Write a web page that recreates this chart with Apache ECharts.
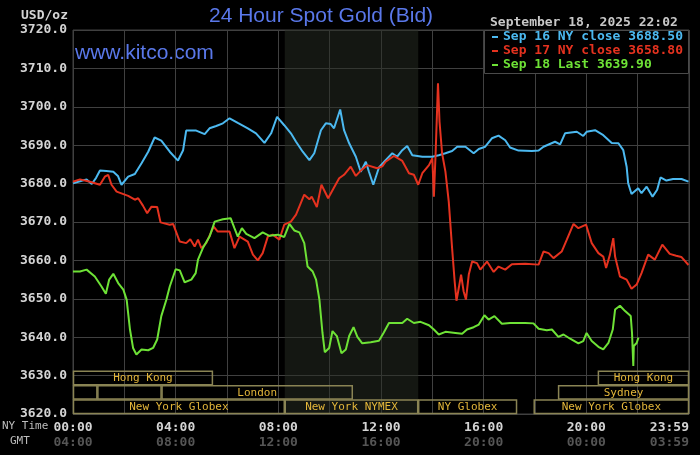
<!doctype html>
<html lang="en">
<head>
	<title>24 Hour Spot Gold</title>
	<meta charset="utf-8" />
	<script src="https://cdn.jsdelivr.net/npm/echarts@6/dist/echarts.min.js"></script>
	<style>
		html, body { margin: 0; padding: 0; background: #000; }
	</style>
</head>

<body>
	<div id="main" style="width: 700px; height: 455px;"></div>
	<script>
		// [hour of NY day, price]
		var sep16 = [[0,3680.1],[0.27,3680.6],[0.53,3681.1],[0.73,3679.9],[0.9,3681.5],[1.05,3683.4],[1.3,3683.3],[1.57,3683.1],[1.75,3682.0],[1.89,3679.7],[2.15,3681.8],[2.41,3682.5],[2.67,3685.3],[2.93,3688.3],[3.18,3692.0],[3.44,3691.2],[3.77,3688.3],[4.09,3686.0],[4.29,3688.7],[4.41,3693.8],[4.8,3693.8],[5.13,3692.9],[5.32,3694.4],[5.58,3695.0],[5.84,3695.7],[6.1,3697.0],[6.42,3695.8],[6.81,3694.4],[7.13,3693.1],[7.46,3690.6],[7.72,3693.1],[7.95,3697.4],[8.23,3695.2],[8.49,3693.1],[8.69,3690.9],[8.95,3688.3],[9.21,3686.1],[9.4,3687.9],[9.66,3693.9],[9.85,3695.7],[10.04,3695.5],[10.17,3694.4],[10.41,3699.3],[10.56,3693.9],[10.76,3690.5],[11.02,3687.0],[11.21,3683.1],[11.41,3685.7],[11.53,3683.1],[11.7,3679.7],[11.92,3684.2],[12.18,3686.1],[12.44,3687.9],[12.63,3687.0],[12.83,3688.7],[13.02,3689.8],[13.22,3687.4],[13.61,3687.0],[14.0,3687.0],[14.25,3687.4],[14.51,3687.9],[14.77,3688.5],[14.97,3689.6],[15.29,3689.6],[15.61,3687.9],[15.81,3689.0],[16.06,3689.6],[16.32,3691.8],[16.58,3692.5],[16.84,3691.3],[17.03,3689.4],[17.36,3688.6],[17.88,3688.5],[18.14,3688.6],[18.33,3689.6],[18.78,3690.9],[18.98,3690.2],[19.17,3693.1],[19.63,3693.5],[19.88,3692.4],[20.01,3693.5],[20.34,3693.9],[20.66,3692.6],[20.99,3690.6],[21.25,3690.5],[21.44,3688.7],[21.57,3684.4],[21.63,3680.1],[21.76,3677.3],[22.02,3678.8],[22.15,3677.5],[22.35,3679.2],[22.58,3676.6],[22.76,3678.4],[22.89,3681.6],[23.12,3680.8],[23.38,3681.2],[23.71,3681.2],[23.98,3680.5]];
		var sep17 = [[0,3680.5],[0.27,3681.1],[0.66,3680.5],[1.05,3679.7],[1.24,3681.8],[1.37,3682.3],[1.5,3679.7],[1.7,3677.9],[2.15,3676.8],[2.41,3675.8],[2.54,3676.2],[2.73,3674.2],[2.89,3672.3],[3.06,3674.0],[3.28,3673.9],[3.41,3669.9],[3.77,3669.3],[3.9,3669.5],[4.16,3664.9],[4.41,3664.5],[4.57,3665.5],[4.74,3663.6],[4.87,3665.4],[5.0,3663.2],[5.19,3664.5],[5.48,3668.8],[5.64,3667.5],[6.1,3667.5],[6.29,3663.2],[6.49,3666.2],[6.81,3664.9],[7.01,3661.5],[7.2,3660.0],[7.39,3661.9],[7.59,3666.2],[7.78,3666.7],[8.04,3665.4],[8.23,3669.3],[8.49,3670.1],[8.69,3671.9],[9.01,3677.1],[9.21,3675.9],[9.3,3676.6],[9.5,3673.9],[9.68,3679.7],[9.94,3676.2],[10.17,3679.0],[10.37,3681.4],[10.56,3682.3],[10.82,3684.4],[11.02,3682.0],[11.23,3683.5],[11.46,3684.8],[11.85,3684.0],[12.05,3684.5],[12.18,3685.7],[12.5,3687.2],[12.83,3685.9],[13.09,3682.7],[13.28,3682.3],[13.45,3679.7],[13.61,3682.7],[13.87,3684.8],[14.0,3686.6],[14.06,3676.6],[14.13,3688.3],[14.22,3706.1],[14.28,3696.1],[14.38,3687.9],[14.51,3683.1],[14.64,3675.3],[14.77,3663.2],[14.87,3654.5],[14.94,3649.5],[15.03,3652.8],[15.12,3656.3],[15.22,3651.9],[15.31,3649.8],[15.42,3656.3],[15.55,3659.7],[15.74,3659.3],[15.87,3657.6],[16.13,3659.7],[16.39,3657.0],[16.58,3658.4],[16.84,3657.6],[17.1,3659.0],[17.62,3659.1],[18.14,3658.9],[18.33,3662.3],[18.53,3661.9],[18.72,3660.6],[19.04,3662.3],[19.24,3665.4],[19.5,3669.5],[19.69,3668.4],[19.99,3669.3],[20.21,3664.5],[20.47,3661.9],[20.66,3661.0],[20.77,3658.0],[20.92,3661.5],[21.05,3665.8],[21.12,3661.0],[21.31,3655.8],[21.57,3655.0],[21.76,3652.6],[21.96,3653.7],[22.15,3656.7],[22.41,3661.5],[22.67,3660.2],[22.96,3664.1],[23.25,3661.7],[23.5,3661.2],[23.7,3660.9],[23.98,3658.8]];
		var sep18 = [[0,3657.1],[0.27,3657.1],[0.53,3657.6],[0.85,3655.8],[1.11,3653.2],[1.28,3651.3],[1.41,3655.0],[1.57,3656.5],[1.76,3654.1],[1.96,3652.4],[2.09,3649.8],[2.22,3642.0],[2.34,3637.2],[2.47,3635.5],[2.67,3636.8],[2.93,3636.6],[3.12,3637.2],[3.28,3639.4],[3.44,3645.5],[3.64,3649.8],[3.77,3653.2],[4.0,3657.7],[4.16,3657.4],[4.35,3654.3],[4.61,3655.0],[4.78,3656.7],[4.87,3660.2],[5.06,3663.2],[5.32,3666.2],[5.52,3670.1],[5.84,3670.7],[6.14,3671.0],[6.29,3668.4],[6.42,3666.2],[6.58,3668.4],[6.75,3666.9],[7.07,3665.8],[7.39,3667.3],[7.65,3666.4],[7.98,3666.7],[8.23,3666.1],[8.43,3669.5],[8.62,3667.8],[8.82,3667.3],[9.01,3664.5],[9.14,3658.4],[9.34,3657.1],[9.47,3655.0],[9.6,3649.8],[9.72,3641.1],[9.81,3636.1],[9.98,3637.2],[10.11,3641.6],[10.28,3640.3],[10.46,3635.8],[10.63,3636.8],[10.76,3640.3],[10.93,3642.6],[11.08,3640.1],[11.27,3638.4],[11.6,3638.7],[11.92,3639.1],[12.11,3641.2],[12.31,3643.7],[12.63,3643.7],[12.83,3643.7],[13.02,3644.8],[13.28,3643.7],[13.54,3644.0],[13.87,3643.1],[14.06,3642.0],[14.25,3640.7],[14.51,3641.4],[14.9,3641.1],[15.16,3640.9],[15.35,3642.0],[15.61,3642.6],[15.81,3643.3],[16.03,3645.7],[16.19,3644.6],[16.42,3645.5],[16.71,3643.5],[17.03,3643.7],[17.62,3643.7],[17.94,3643.6],[18.14,3642.2],[18.46,3641.8],[18.66,3642.0],[18.91,3640.1],[19.11,3640.7],[19.37,3639.6],[19.69,3638.4],[19.88,3639.0],[20.01,3641.1],[20.21,3639.0],[20.47,3637.5],[20.66,3636.8],[20.86,3638.5],[21.03,3642.0],[21.12,3647.2],[21.31,3648.2],[21.51,3646.8],[21.73,3645.5],[21.78,3641.1],[21.83,3632.5],[21.85,3637.7],[21.96,3638.5],[22.03,3639.9]];

		var legendNames = ['Sep 16 NY close 3688.50', 'Sep 17 NY close 3658.80', 'Sep 18 Last 3639.90'];
		var dateText = 'September 18, 2025 22:02';

		// x tick labels: hour -> [NY time, GMT]
		var nyTicks = {0: '00:00', 4: '04:00', 8: '08:00', 12: '12:00', 16: '16:00', 20: '20:00', 24: '23:59'};
		var gmtTicks = {0: '04:00', 4: '08:00', 8: '12:00', 12: '16:00', 16: '20:00', 20: '00:00', 24: '03:59'};

		// market sessions: [start hour, end hour, row, name]
		var sessions = [
			[0, 5.45, 0, 'Hong Kong'],
			[20.45, 24, 0, 'Hong Kong'],
			[0, 0.95, 1, ''],
			[0.95, 3.45, 1, ''],
			[3.45, 10.9, 1, 'London'],
			[18.9, 24, 1, 'Sydney'],
			[0, 8.25, 2, 'New York Globex'],
			[8.25, 13.45, 2, 'New York NYMEX'],
			[13.45, 17.3, 2, 'NY Globex'],
			[17.95, 24, 2, 'New York Globex']
		];
		var nymexHours = [8.25, 13.45];

		var mono = '"DejaVu Sans Mono", monospace';
		var colors = ['#4cb9f0', '#e5321f', '#6ee236'];

		var chart = echarts.init(document.getElementById('main'));

		var legendItems = [];
		legendNames.forEach(function (name, i) {
			legendItems.push({
				type: 'rect', z: 60,
				shape: { x: 492, y: 36 + i * 14, width: 6, height: 2 },
				style: { fill: colors[i] }
			});
			legendItems.push({
				type: 'text', z: 60, left: 503, top: 30 + i * 14,
				style: { text: name, fill: colors[i], font: 'bold 13px ' + mono }
			});
		});

		var option = {
			backgroundColor: '#000',
			animation: false,
			grid: {
				left: 73,
				right: 11,
				top: 30,
				bottom: 41,
				show: true,
				borderColor: '#404040',
				borderWidth: 1
			},
			xAxis: {
				type: 'value',
				min: 0,
				max: 24,
				interval: 2,
				axisLine: { show: false },
				axisTick: { show: false },
				splitLine: { lineStyle: { color: '#404040', width: 1 } },
				axisLabel: {
					margin: 6,
					alignMaxLabel: 'right',
					formatter: function (v) {
						if (nyTicks[v] === undefined) return '';
						return '{a|' + nyTicks[v] + '}\n{b|' + gmtTicks[v] + '}';
					},
					rich: {
						a: { fontFamily: mono, fontSize: 13, fontWeight: 'bold', color: '#d4d4d4', lineHeight: 15 },
						b: { fontFamily: mono, fontSize: 13, fontWeight: 'bold', color: '#555555', lineHeight: 15 }
					}
				}
			},
			yAxis: {
				type: 'value',
				min: 3620,
				max: 3720,
				interval: 10,
				axisLine: { show: false },
				axisTick: { show: false },
				splitLine: { lineStyle: { color: '#404040', width: 1 } },
				axisLabel: {
					margin: 6,
					fontFamily: mono,
					fontSize: 13,
					fontWeight: 'bold',
					color: '#d4d4d4',
					formatter: function (v) { return v.toFixed(1); }
				}
			},
			series: [
				{
					type: 'custom',
					silent: true,
					z: 1,
					renderItem: function (params, api) {
						var s = sessions[params.dataIndex];
						var x0 = api.coord([s[0], 3620])[0];
						var x1 = api.coord([s[1], 3620])[0];
						var bottom = params.coordSys.y + params.coordSys.height;
						var rowH = 14.4;
						var y = bottom - (3 - s[2]) * rowH;
						return {
							type: 'group',
							children: [
								{
									type: 'rect',
									shape: { x: x0 + 0.5, y: y + 0.5, width: x1 - x0 - 1, height: rowH - 1 },
									style: { fill: null, stroke: '#8a8454', lineWidth: 1.5 }
								},
								{
									type: 'text',
									style: {
										text: s[3],
										x: (x0 + x1) / 2,
										y: y + rowH / 2 + 0.5,
										align: 'center',
										verticalAlign: 'middle',
										fill: '#e3b63a',
										font: '11px ' + mono
									}
								}
							]
						};
					},
					data: sessions.map(function (s) { return [s[0], s[1], s[2]]; })
				},
				{
					name: legendNames[0],
					type: 'line',
					data: sep16,
					showSymbol: false,
					lineStyle: { color: colors[0], width: 2 },
					z: 3,
					markArea: {
						silent: true,
						itemStyle: { color: 'rgba(40,46,36,0.5)' },
						data: [[{ xAxis: nymexHours[0] }, { xAxis: nymexHours[1] }]]
					}
				},
				{
					name: legendNames[1],
					type: 'line',
					data: sep17,
					showSymbol: false,
					lineStyle: { color: colors[1], width: 2 },
					z: 4
				},
				{
					name: legendNames[2],
					type: 'line',
					data: sep18,
					showSymbol: false,
					lineStyle: { color: colors[2], width: 2 },
					z: 5
				}
			],
			graphic: [
				{
					type: 'text', left: 209, top: 6,
					style: { text: '24 Hour Spot Gold (Bid)', fill: '#5a78ea', font: '21px "Liberation Sans", Arial, sans-serif' }
				},
				{
					type: 'text', left: 75, top: 43,
					style: { text: 'www.kitco.com', fill: '#5a78ea', font: '21px "Liberation Sans", Arial, sans-serif' }
				},
				{
					type: 'text', left: 21, top: 9,
					style: { text: 'USD/oz', fill: '#d4d4d4', font: 'bold 13px ' + mono }
				},
				{
					type: 'text', left: 490, top: 16,
					style: { text: dateText, fill: '#c8c8c8', font: 'bold 13px ' + mono }
				},
				{
					type: 'rect', z: 50,
					shape: { x: 484.5, y: 30.5, width: 204, height: 43 },
					style: { fill: '#000', stroke: '#4a4a4a', lineWidth: 1 }
				},
				{
					type: 'text', left: 2, top: 421,
					style: { text: 'NY Time', fill: '#bdbdbd', font: '11px ' + mono }
				},
				{
					type: 'text', left: 10, top: 436,
					style: { text: 'GMT', fill: '#bdbdbd', font: '11px ' + mono }
				}
			].concat(legendItems)
		};
		chart.setOption(option);
	</script>
</body>
</html>
